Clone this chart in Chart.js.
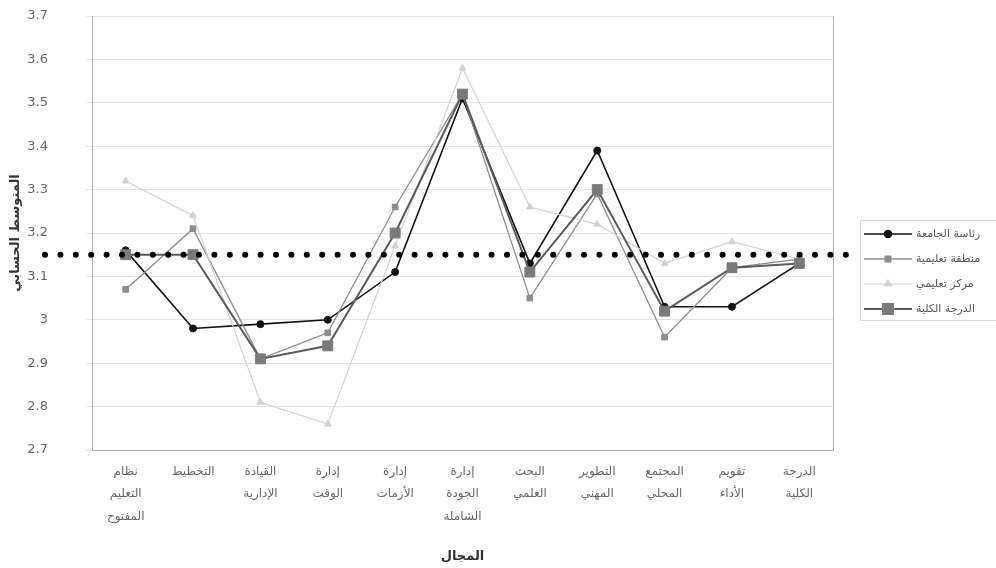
<!DOCTYPE html>
<html lang="ar">
<head>
<meta charset="utf-8">
<script src="https://cdn.jsdelivr.net/npm/chart.js@4/dist/chart.umd.min.js"></script>
<style>
  html, body { margin: 0; padding: 0; background: #fff; }
  #wrap { width: 996px; height: 568px; position: relative; }
</style>
</head>
<body>
<div id="wrap"><canvas id="c"></canvas></div>
<script>
// Domains (x-axis), each split over lines as printed under the axis
const categories = [
  ['نظام', 'التعليم', 'المفتوح'],
  ['التخطيط'],
  ['القيادة', 'الإدارية'],
  ['إدارة', 'الوقت'],
  ['إدارة', 'الأزمات'],
  ['إدارة', 'الجودة', 'الشاملة'],
  ['البحث', 'العلمي'],
  ['التطوير', 'المهني'],
  ['المجتمع', 'المحلي'],
  ['تقويم', 'الأداء'],
  ['الدرجة', 'الكلية']
];

const seriesNames = ['رئاسة الجامعة', 'منطقة تعليمية', 'مركز تعليمي', 'الدرجة الكلية'];

const universityPresidency = [3.16, 2.98, 2.99, 3.00, 3.11, 3.51, 3.13, 3.39, 3.03, 3.03, 3.13];
const educationalRegion    = [3.07, 3.21, 2.91, 2.97, 3.26, 3.52, 3.05, 3.29, 2.96, 3.12, 3.14];
const educationalCenter    = [3.32, 3.24, 2.81, 2.76, 3.17, 3.58, 3.26, 3.22, 3.13, 3.18, 3.14];
const overallScore         = [3.15, 3.15, 2.91, 2.94, 3.20, 3.52, 3.11, 3.30, 3.02, 3.12, 3.13];

// Reference mean drawn as a dotted horizontal line
const referenceMean = 3.15;

const yTicks = { min: 2.7, max: 3.7, step: 0.1 };

const FONT = "'DejaVu Sans', 'Noto Sans', sans-serif";

const styles = [
  { color: '#111111', line: 1.6, point: 'circle',   radius: 3.5, fill: '#111111' },
  { color: '#8c8c8c', line: 1.3, point: 'rect',     radius: 4,   fill: '#8c8c8c' },
  { color: '#d2d2d2', line: 1.2, point: 'triangle', radius: 4,   fill: '#d2d2d2' },
  { color: '#5a5a5a', line: 2.0, point: 'rect',     radius: 7,   fill: '#7a7a7a' }
];

const seriesData = [universityPresidency, educationalRegion, educationalCenter, overallScore];

const datasets = seriesData.map((d, i) => ({
  label: seriesNames[i],
  data: d,
  borderColor: styles[i].color,
  backgroundColor: styles[i].fill,
  pointBackgroundColor: styles[i].fill,
  pointBorderColor: styles[i].fill,
  borderWidth: styles[i].line,
  pointStyle: styles[i].point,
  pointRadius: styles[i].radius,
  pointBorderWidth: 1,
  tension: 0,
  order: 3 - i
}));

// Dotted mean line, drawn across and slightly beyond the plot area
const meanLine = {
  id: 'meanLine',
  afterDatasetsDraw(chart) {
    const { ctx, chartArea, scales } = chart;
    const y = scales.y.getPixelForValue(referenceMean);
    ctx.save();
    ctx.strokeStyle = '#000';
    ctx.lineWidth = 6;
    ctx.lineCap = 'round';
    ctx.setLineDash([0, 15.4]);
    ctx.beginPath();
    ctx.moveTo(chartArea.left - 47, y);
    ctx.lineTo(chartArea.right + 16, y);
    ctx.stroke();
    ctx.restore();
  }
};

// Boxed legend on the right with line + marker samples
const boxLegend = {
  id: 'boxLegend',
  afterDraw(chart) {
    const { ctx, chartArea } = chart;
    const x0 = chartArea.right + 27;
    const top = 220;
    const w = 140, h = 100;
    ctx.save();
    ctx.strokeStyle = '#d8d8d8';
    ctx.lineWidth = 1;
    ctx.strokeRect(x0 + 0.5, top + 0.5, w, h);
    chart.data.datasets.forEach((ds, i) => {
      const yy = top + 14 + i * 25;
      const st = styles[i];
      ctx.strokeStyle = st.color;
      ctx.lineWidth = st.line;
      ctx.beginPath();
      ctx.moveTo(x0 + 4, yy);
      ctx.lineTo(x0 + 52, yy);
      ctx.stroke();
      ctx.fillStyle = st.fill;
      ctx.strokeStyle = st.fill;
      Chart.helpers.drawPoint(ctx, { pointStyle: st.point, radius: st.radius, borderWidth: 1 }, x0 + 28, yy);
      ctx.fillStyle = '#555';
      ctx.font = '11px ' + FONT;
      ctx.textAlign = 'left';
      ctx.textBaseline = 'middle';
      ctx.fillText(ds.label, x0 + 56, yy);
    });
    ctx.restore();
  }
};

new Chart(document.getElementById('c'), {
  type: 'line',
  data: { labels: categories, datasets },
  options: {
    responsive: true,
    maintainAspectRatio: false,
    animation: false,
    layout: { padding: { top: 16, right: 163, left: 0, bottom: 0 } },
    plugins: {
      legend: { display: false },
      tooltip: { enabled: false }
    },
    scales: {
      x: {
        offset: true,
        grid: { display: false, drawTicks: false },
        border: { display: true, color: '#b0b0b0', width: 1 },
        ticks: {
          color: '#666',
          font: { family: FONT, size: 12, lineHeight: 1.9 },
          padding: 10,
          maxRotation: 0,
          autoSkip: false
        },
        title: {
          display: true,
          text: 'المجال',
          color: '#333',
          font: { family: FONT, size: 13, weight: 'bold' },
          padding: { top: 14 }
        },
        afterFit(scale) { scale.height = 118; }
      },
      y: {
        min: yTicks.min,
        max: yTicks.max,
        grid: { color: '#e4e4e4', drawTicks: true, tickLength: 6, tickColor: '#e4e4e4' },
        border: { display: true, color: '#b0b0b0', width: 1 },
        ticks: {
          stepSize: yTicks.step,
          color: '#666',
          font: { family: FONT, size: 13 },
          padding: 38,
          callback: v => Number(v.toFixed(1)).toString()
        },
        title: {
          display: true,
          text: 'المتوسط الحسابي',
          color: '#333',
          font: { family: FONT, size: 13, weight: 'bold' },
          padding: { top: 8, bottom: 0 }
        },
        afterFit(scale) {
          scale.width = 92;
          scale.paddingTop = 0;
          scale.paddingBottom = 0;
        }
      },
      yRight: {
        position: 'right',
        min: yTicks.min,
        max: yTicks.max,
        grid: { display: false, drawTicks: false },
        border: { display: true, color: '#b0b0b0', width: 1 },
        ticks: { display: false },
        afterFit(scale) { scale.width = 0; }
      }
    }
  },
  plugins: [meanLine, boxLegend]
});
</script>
</body>
</html>
